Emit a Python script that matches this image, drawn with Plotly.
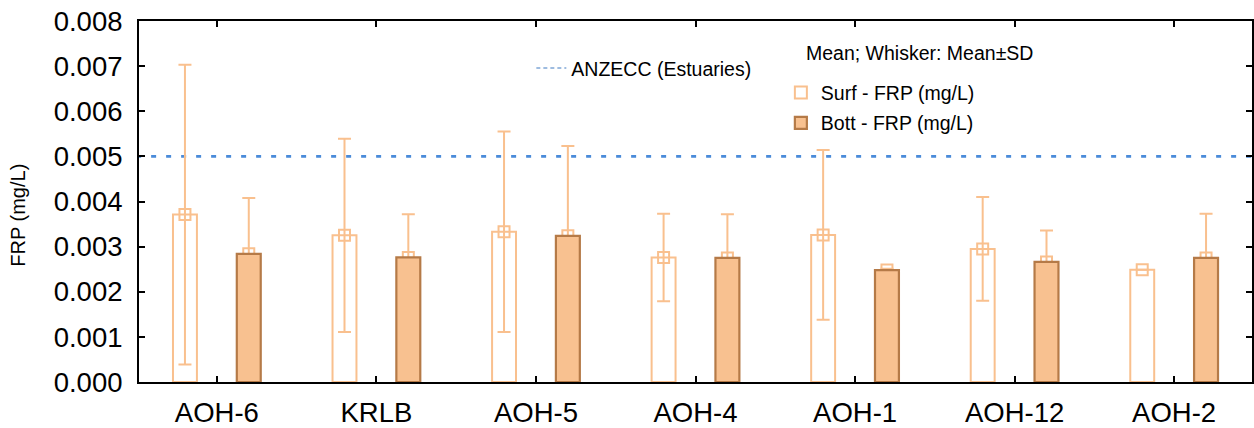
import plotly.graph_objects as go

sites = ["AOH-6", "KRLB", "AOH-5", "AOH-4", "AOH-1", "AOH-12", "AOH-2"]
surf_mean = [0.00371, 0.00325, 0.00333, 0.00276, 0.00326, 0.00295, 0.00249]
surf_sd = [0.00332, 0.00214, 0.00222, 0.00097, 0.00188, 0.00115, 0.0]
bott_mean = [0.00284, 0.00276, 0.00324, 0.00275, 0.00248, 0.00266, 0.00275]
bott_sd = [0.00124, 0.00096, 0.00199, 0.00097, 0.00003, 0.00070, 0.00098]
y_ticks = [0.000, 0.001, 0.002, 0.003, 0.004, 0.005, 0.006, 0.007, 0.008]
anzecc_value = 0.005

LIGHT = "#F9C08E"
FILL = "#F8C190"
DARK = "#B57A47"
BLUE = "#4A8BD9"
FONT = "Liberation Sans, Arial, sans-serif"

idx = list(range(len(sites)))
off = 0.2
bw = 0.15
xs = [i - off for i in idx]
xb = [i + off for i in idx]

fig = go.Figure()

# ANZECC line (plot)
fig.add_trace(go.Scatter(
    x=[-0.6, len(sites) - 0.4], y=[anzecc_value, anzecc_value], mode="lines",
    line=dict(color=BLUE, width=2.6, dash="5px,10px"),
    showlegend=False, hoverinfo="skip"))
# ANZECC legend entry
fig.add_trace(go.Scatter(
    x=[None], y=[None], mode="lines", name="ANZECC (Estuaries)",
    line=dict(color="#7FA6D6", width=1.5, dash="4px,3px"),
    legend="legend2"))

# Means + whiskers (drawn beneath bars)
fig.add_trace(go.Scatter(
    x=xs, y=surf_mean, mode="markers",
    marker=dict(symbol="square-open", size=11, color=LIGHT, line=dict(width=2, color=LIGHT)),
    error_y=dict(type="data", array=surf_sd, symmetric=True, color=LIGHT, thickness=2, width=6.5),
    showlegend=False))
fig.add_trace(go.Scatter(
    x=xb, y=bott_mean, mode="markers",
    marker=dict(symbol="square-open", size=11, color=LIGHT, line=dict(width=2, color=LIGHT)),
    error_y=dict(type="data", array=bott_sd, symmetric=True, color=LIGHT, thickness=2, width=6.5),
    showlegend=False))

# Bars on overlay axes (drawn on top)
fig.add_trace(go.Bar(
    x=xs, y=surf_mean, width=bw, name="Surf - FRP (mg/L)",
    marker=dict(color="rgba(0,0,0,0)", line=dict(color=LIGHT, width=2)),
    xaxis="x2", yaxis="y2", legendgroup="s"))
fig.add_trace(go.Bar(
    x=xb, y=bott_mean, width=bw, name="Bott - FRP (mg/L)",
    marker=dict(color=FILL, line=dict(color=DARK, width=2.2)),
    xaxis="x2", yaxis="y2", legendgroup="b"))

xr = [-0.488, 6.488]
yr = [0, 0.008]

axis_common = dict(showline=True, linecolor="black", linewidth=2, mirror="ticks",
                   ticks="inside", tickcolor="black", tickwidth=2, ticklen=6,
                   showgrid=False, zeroline=False,
                   tickfont=dict(family=FONT, size=27.5, color="black"))

LEG_SIZE = 19.5

fig.update_layout(
    width=1254, height=428,
    margin=dict(l=139, r=0, t=21, b=46),
    paper_bgcolor="white", plot_bgcolor="white",
    barmode="overlay",
    font=dict(family=FONT, color="black"),
    xaxis=dict(range=xr, tickmode="array", tickvals=idx, ticktext=sites,
               ticklabelstandoff=5, **axis_common),
    yaxis=dict(range=yr, tickmode="array", tickvals=y_ticks,
               ticktext=[f"{v:.3f}" for v in y_ticks], ticklabelstandoff=9, **axis_common),
    xaxis2=dict(range=xr, overlaying="x", visible=False),
    yaxis2=dict(range=yr, overlaying="y", visible=False),
    legend=dict(x=0.5767, y=0.855, xanchor="left", yanchor="top",
                bgcolor="rgba(0,0,0,0)", tracegroupgap=2,
                font=dict(family=FONT, size=LEG_SIZE, color="black")),
    legend2=dict(x=0.3525, y=0.923, xanchor="left", yanchor="top",
                 bgcolor="rgba(0,0,0,0)",
                 font=dict(family=FONT, size=LEG_SIZE, color="black")),
    annotations=[
        dict(text="Mean; Whisker: Mean±SD", x=0.5973, y=0.9114, xref="paper", yref="paper",
             xanchor="left", yanchor="middle", showarrow=False,
             font=dict(family=FONT, size=LEG_SIZE, color="black")),
        dict(text="FRP (mg/L)", x=-0.109, y=0.4626, xref="paper", yref="paper",
             xanchor="center", yanchor="middle", showarrow=False, textangle=-90,
             font=dict(family=FONT, size=20, color="black")),
    ],
)

fig.write_html("out.html")
